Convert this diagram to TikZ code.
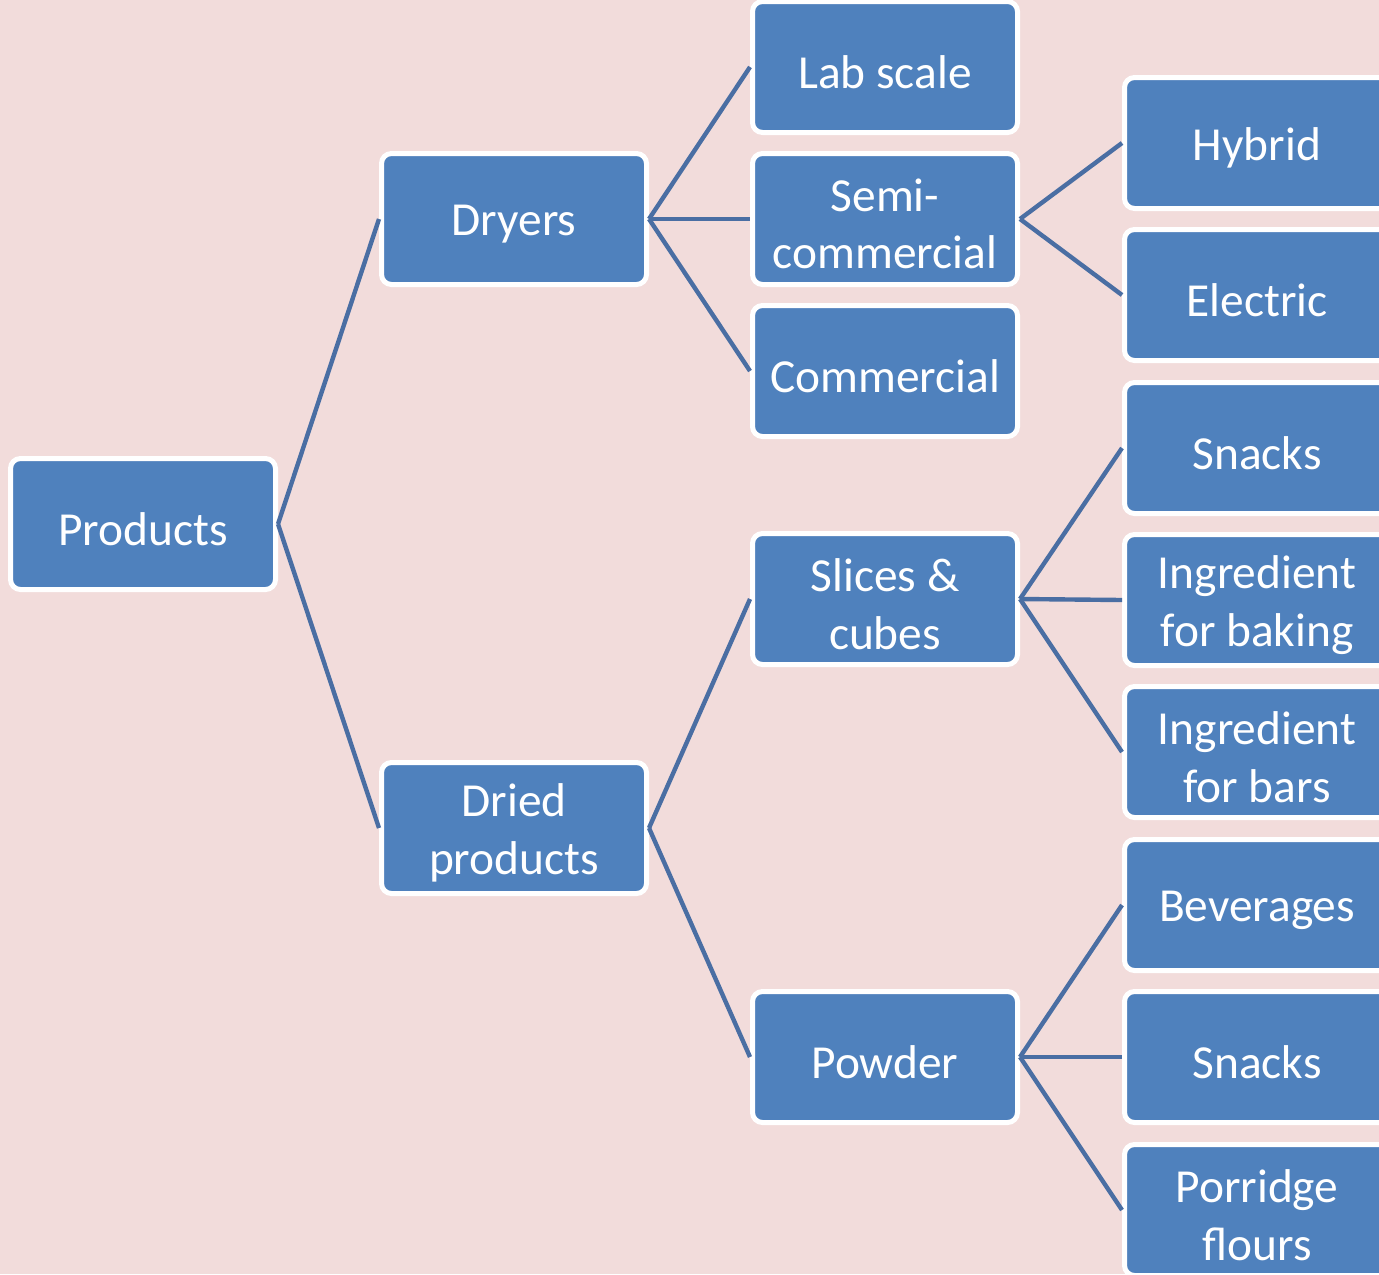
\documentclass[tikz,border=0pt]{standalone}
\usepackage{fontspec}
\setmainfont{Carlito}
\definecolor{bgpink}{HTML}{F2DCDB}
\definecolor{boxblue}{HTML}{4F81BD}
\definecolor{linkblue}{HTML}{4A6EA3}
\newcommand\mybx[3]{%
  \node[box] (#1) at #2 {};
  \node[txt] (#1-t) at ([yshift=-2.5pt]#1.center) {#3};}
\begin{document}
\begin{tikzpicture}[x=0.5pt,y=-0.5pt,
  box/.style={rectangle, rounded corners=5pt, fill=boxblue, draw=white, line width=2.5pt,
    minimum width=132.5pt, minimum height=65.5pt, inner sep=0pt},
  txt/.style={align=center, inner sep=0pt, text=white, font=\fontsize{23.7}{28.8}\selectfont},
  link/.style={draw=linkblue, line width=2.2pt}]
\fill[bgpink] (0,0) rectangle (1379,1274);
\useasboundingbox (0,0) rectangle (1379,1274);
\mybx{prod}{(143,524)}{Products}
\mybx{dry}{(514,219)}{Dryers}
\mybx{dried}{(514,828)}{Dried\\products}
\mybx{lab}{(885,67)}{Lab scale}
\mybx{semi}{(885,219)}{Semi-\\commercial}
\mybx{comm}{(885,371)}{Commercial}
\mybx{slices}{(885,599)}{Slices \&\\cubes}
\mybx{powder}{(885,1057)}{Powder}
\mybx{hyb}{(1257,143)}{Hybrid}
\mybx{elec}{(1257,295)}{Electric}
\mybx{snack1}{(1257,448)}{Snacks}
\mybx{bake}{(1257,600)}{Ingredient\\for baking}
\mybx{bars}{(1257,752)}{Ingredient\\for bars}
\mybx{bev}{(1257,905)}{Beverages}
\mybx{snack2}{(1257,1057)}{Snacks}
\mybx{porr}{(1257,1210)}{Porridge\\flours}
\foreach \a/\b in {prod/dry, prod/dried, dry/lab, dry/semi, dry/comm, semi/hyb, semi/elec,
  dried/slices, dried/powder, slices/snack1, slices/bake, slices/bars,
  powder/bev, powder/snack2, powder/porr}
  \draw[link] (\a.east) -- (\b.west);
\end{tikzpicture}
\end{document}
